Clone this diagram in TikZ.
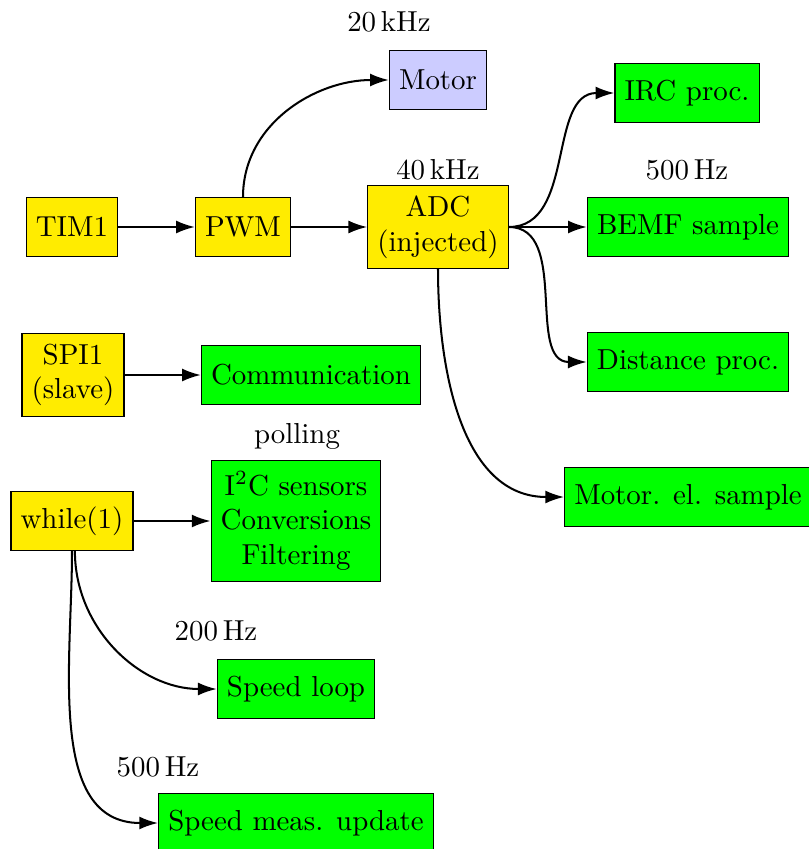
\documentclass[tikz,border=0pt]{standalone}
\usetikzlibrary{arrows.meta}
\definecolor{taskyellow}{RGB}{255,236,0}
\definecolor{taskgreen}{RGB}{0,255,0}
\definecolor{motorblue}{RGB}{204,204,255}
\begin{document}
\begin{tikzpicture}[x=0.346pt,y=-0.346pt,
  box/.style={draw, align=center, inner sep=3.33pt, minimum height=20.4pt, font=\normalsize},
  hw/.style={box, fill=taskyellow},
  task/.style={box, fill=taskgreen},
  twoline/.style={minimum height=28.7pt},
  link/.style={line width=0.7pt, -{Latex[length=6.5pt,width=4.5pt]}},
  rate/.style={inner sep=0pt}]
\useasboundingbox (0,0) rectangle (808,849);

% hardware blocks
\node[hw] (tim) at (72,227) {TIM1};
\node[hw] (pwm) at (243,227) {PWM};
\node[hw, twoline] (adc) at (438,227) {ADC\\(injected)};
\node[box, fill=motorblue] (motor) at (438,80) {Motor};
\node[hw, twoline] (spi) at (73,375) {SPI1\\(slave)};
\node[hw] (loop) at (72,521) {while(1)};

% tasks
\node[task] (irc) at (687,93) {IRC proc.};
\node[task] (bemf) at (688,227) {BEMF sample};
\node[task] (dist) at (688,362) {Distance proc.};
\node[task] (mel) at (688,497) {Motor. el. sample};
\node[task] (comm) at (311,375) {Communication};
\node[task, minimum height=41.9pt] (i2c) at (296,521) {I\textsuperscript{2}C sensors\\Conversions\\Filtering};
\node[task] (speed) at (296,689) {Speed loop};
\node[task] (meas) at (296,823) {Speed meas. update};

% rates
\node[rate] (r20k) at (389,22) {20\,kHz};
\node[rate] (r40k) at (438,170) {40\,kHz};
\node[rate] (r500a) at (687,170) {500\,Hz};
\node[rate] (rpoll) at (297,436) {polling};
\node[rate] (r200) at (216,631) {200\,Hz};
\node[rate] (r500b) at (158,767) {500\,Hz};

% connections
\draw[link] (tim) -- (pwm);
\draw[link] (pwm) -- (adc);
\draw[link] (pwm.north) to[out=90,in=180] (motor.west);
\draw[link] (adc.east) to[out=0,in=180] (irc.west);
\draw[link] (adc.east) -- (bemf.west);
\draw[link] (adc.east) to[out=0,in=180] (dist.west);
\draw[link] (adc.south) to[out=-90,in=180] (mel.west);
\draw[link] (spi) -- (comm);
\draw[link] (loop) -- (i2c);
\draw[link] ([xshift=1pt]loop.south) to[out=-90,in=180] (speed.west);
\draw[link] (loop.south) to[out=-90,in=180] (meas.west);
\end{tikzpicture}
\end{document}
